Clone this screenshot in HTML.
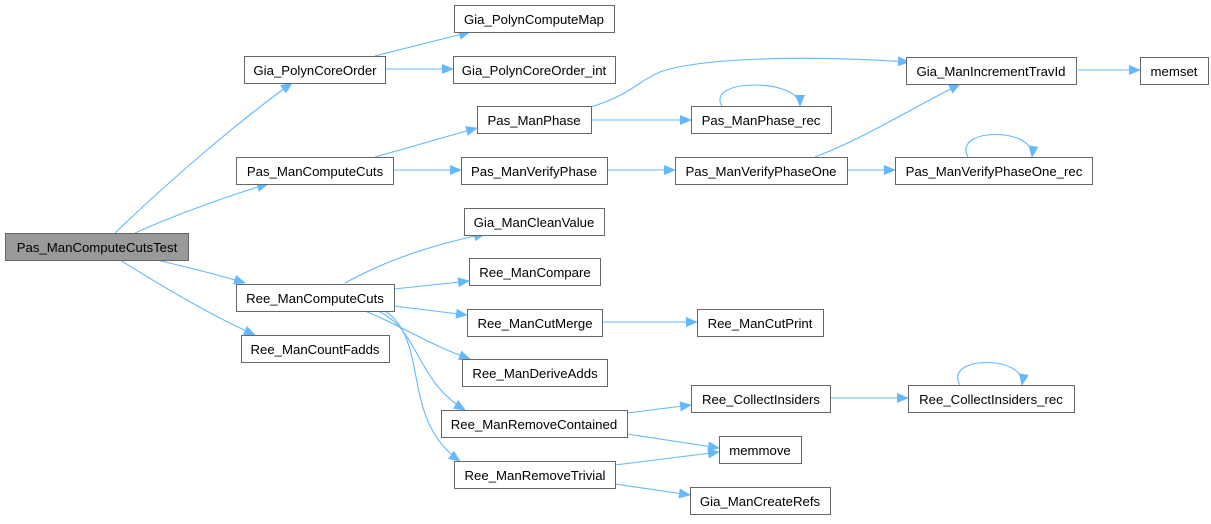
<!DOCTYPE html>
<html><head><meta charset="utf-8"><style>
body{margin:0;background:#fff;width:1211px;height:519px;overflow:hidden}
text{font-family:"Liberation Sans",Arial,sans-serif;font-size:13.2px;fill:#000}
</style></head><body>
<svg width="1211" height="519" viewBox="0 0 1211 519" xmlns="http://www.w3.org/2000/svg">
<defs><marker id="a" markerWidth="12" markerHeight="10" refX="11" refY="5" orient="auto" markerUnits="userSpaceOnUse"><path d="M0,0 L12,5 L0,10 Z" fill="#63b8ff"/></marker></defs>
<g fill="none" stroke="#63b8ff" stroke-width="1.1" marker-end="url(#a)">
<path d="M115,233 C170,180 240,120 292,83"/>
<path d="M135,233 C175,215 230,195 268,184"/>
<path d="M157,260 C190,268 220,275 245,283"/>
<path d="M120,260 C160,285 210,315 255,335"/>
<path d="M375,56 L470,32"/>
<path d="M385,69 L453,69"/>
<path d="M375,157 L477,128"/>
<path d="M393,170 L461,170"/>
<path d="M591,107 C630,95 640,80 660,72 C700,58 800,55 909,62"/>
<path d="M591,120 L691,120"/>
<path d="M722,106 C705,78 800,78 800,106"/>
<path d="M607,170 L675,170"/>
<path d="M815,157 C860,140 900,115 960,84"/>
<path d="M847,170 L895,170"/>
<path d="M968,157 C952,127 1036,127 1032,157"/>
<path d="M1078,70 L1140,70"/>
<path d="M345,283 C390,258 440,243 485,234"/>
<path d="M394,289 L469,281"/>
<path d="M394,306 L467,315"/>
<path d="M365,311 C400,325 430,345 470,359"/>
<path d="M378,311 C420,330 415,380 465,410"/>
<path d="M385,311 C430,340 400,420 460,461"/>
<path d="M602,322 L697,322"/>
<path d="M627,413 L691,405"/>
<path d="M627,434 L719,448"/>
<path d="M615,465 L719,452"/>
<path d="M615,484 L690,495"/>
<path d="M830,398 L908,398"/>
<path d="M960,385 C943,355 1027,355 1022,385"/>
</g>
<g stroke="#666" stroke-width="1" fill="#fff">
<rect x="5.5" y="233.5" width="183" height="27" fill="#999"/>
<rect x="244.5" y="56.5" width="141" height="27"/>
<rect x="454.5" y="5.5" width="160" height="27"/>
<rect x="453.5" y="56.5" width="162" height="27"/>
<rect x="477.5" y="106.5" width="114" height="27"/>
<rect x="236.5" y="157.5" width="157" height="27"/>
<rect x="461.5" y="157.5" width="146" height="27"/>
<rect x="464.5" y="208.5" width="140" height="27"/>
<rect x="906.5" y="57.5" width="170" height="27"/>
<rect x="1140.5" y="57.5" width="68" height="27"/>
<rect x="691.5" y="106.5" width="140" height="27"/>
<rect x="675.5" y="157.5" width="172" height="27"/>
<rect x="895.5" y="157.5" width="197" height="27"/>
<rect x="469.5" y="258.5" width="131" height="27"/>
<rect x="236.5" y="284.5" width="158" height="27"/>
<rect x="241.5" y="335.5" width="148" height="27"/>
<rect x="467.5" y="309.5" width="135" height="27"/>
<rect x="697.5" y="309.5" width="126" height="27"/>
<rect x="462.5" y="359.5" width="145" height="27"/>
<rect x="691.5" y="385.5" width="139" height="27"/>
<rect x="908.5" y="385.5" width="166" height="27"/>
<rect x="441.5" y="410.5" width="186" height="27"/>
<rect x="719.5" y="436.5" width="82" height="27"/>
<rect x="454.5" y="461.5" width="161" height="27"/>
<rect x="690.5" y="487.5" width="140" height="27"/>
</g>
<g text-anchor="middle">
<text x="97" y="252">Pas_ManComputeCutsTest</text>
<text x="315" y="75">Gia_PolynCoreOrder</text>
<text x="534" y="24">Gia_PolynComputeMap</text>
<text x="534" y="75">Gia_PolynCoreOrder_int</text>
<text x="534" y="125">Pas_ManPhase</text>
<text x="315" y="176">Pas_ManComputeCuts</text>
<text x="534" y="176">Pas_ManVerifyPhase</text>
<text x="534" y="227">Gia_ManCleanValue</text>
<text x="991" y="76">Gia_ManIncrementTravId</text>
<text x="1174" y="76">memset</text>
<text x="761" y="125">Pas_ManPhase_rec</text>
<text x="761" y="176">Pas_ManVerifyPhaseOne</text>
<text x="994" y="176">Pas_ManVerifyPhaseOne_rec</text>
<text x="535" y="277">Ree_ManCompare</text>
<text x="315" y="303">Ree_ManComputeCuts</text>
<text x="315" y="354">Ree_ManCountFadds</text>
<text x="535" y="328">Ree_ManCutMerge</text>
<text x="760" y="328">Ree_ManCutPrint</text>
<text x="535" y="378">Ree_ManDeriveAdds</text>
<text x="761" y="404">Ree_CollectInsiders</text>
<text x="991" y="404">Ree_CollectInsiders_rec</text>
<text x="534" y="429">Ree_ManRemoveContained</text>
<text x="760" y="455">memmove</text>
<text x="535" y="480">Ree_ManRemoveTrivial</text>
<text x="760" y="506">Gia_ManCreateRefs</text>
</g>
</svg>
</body></html>
